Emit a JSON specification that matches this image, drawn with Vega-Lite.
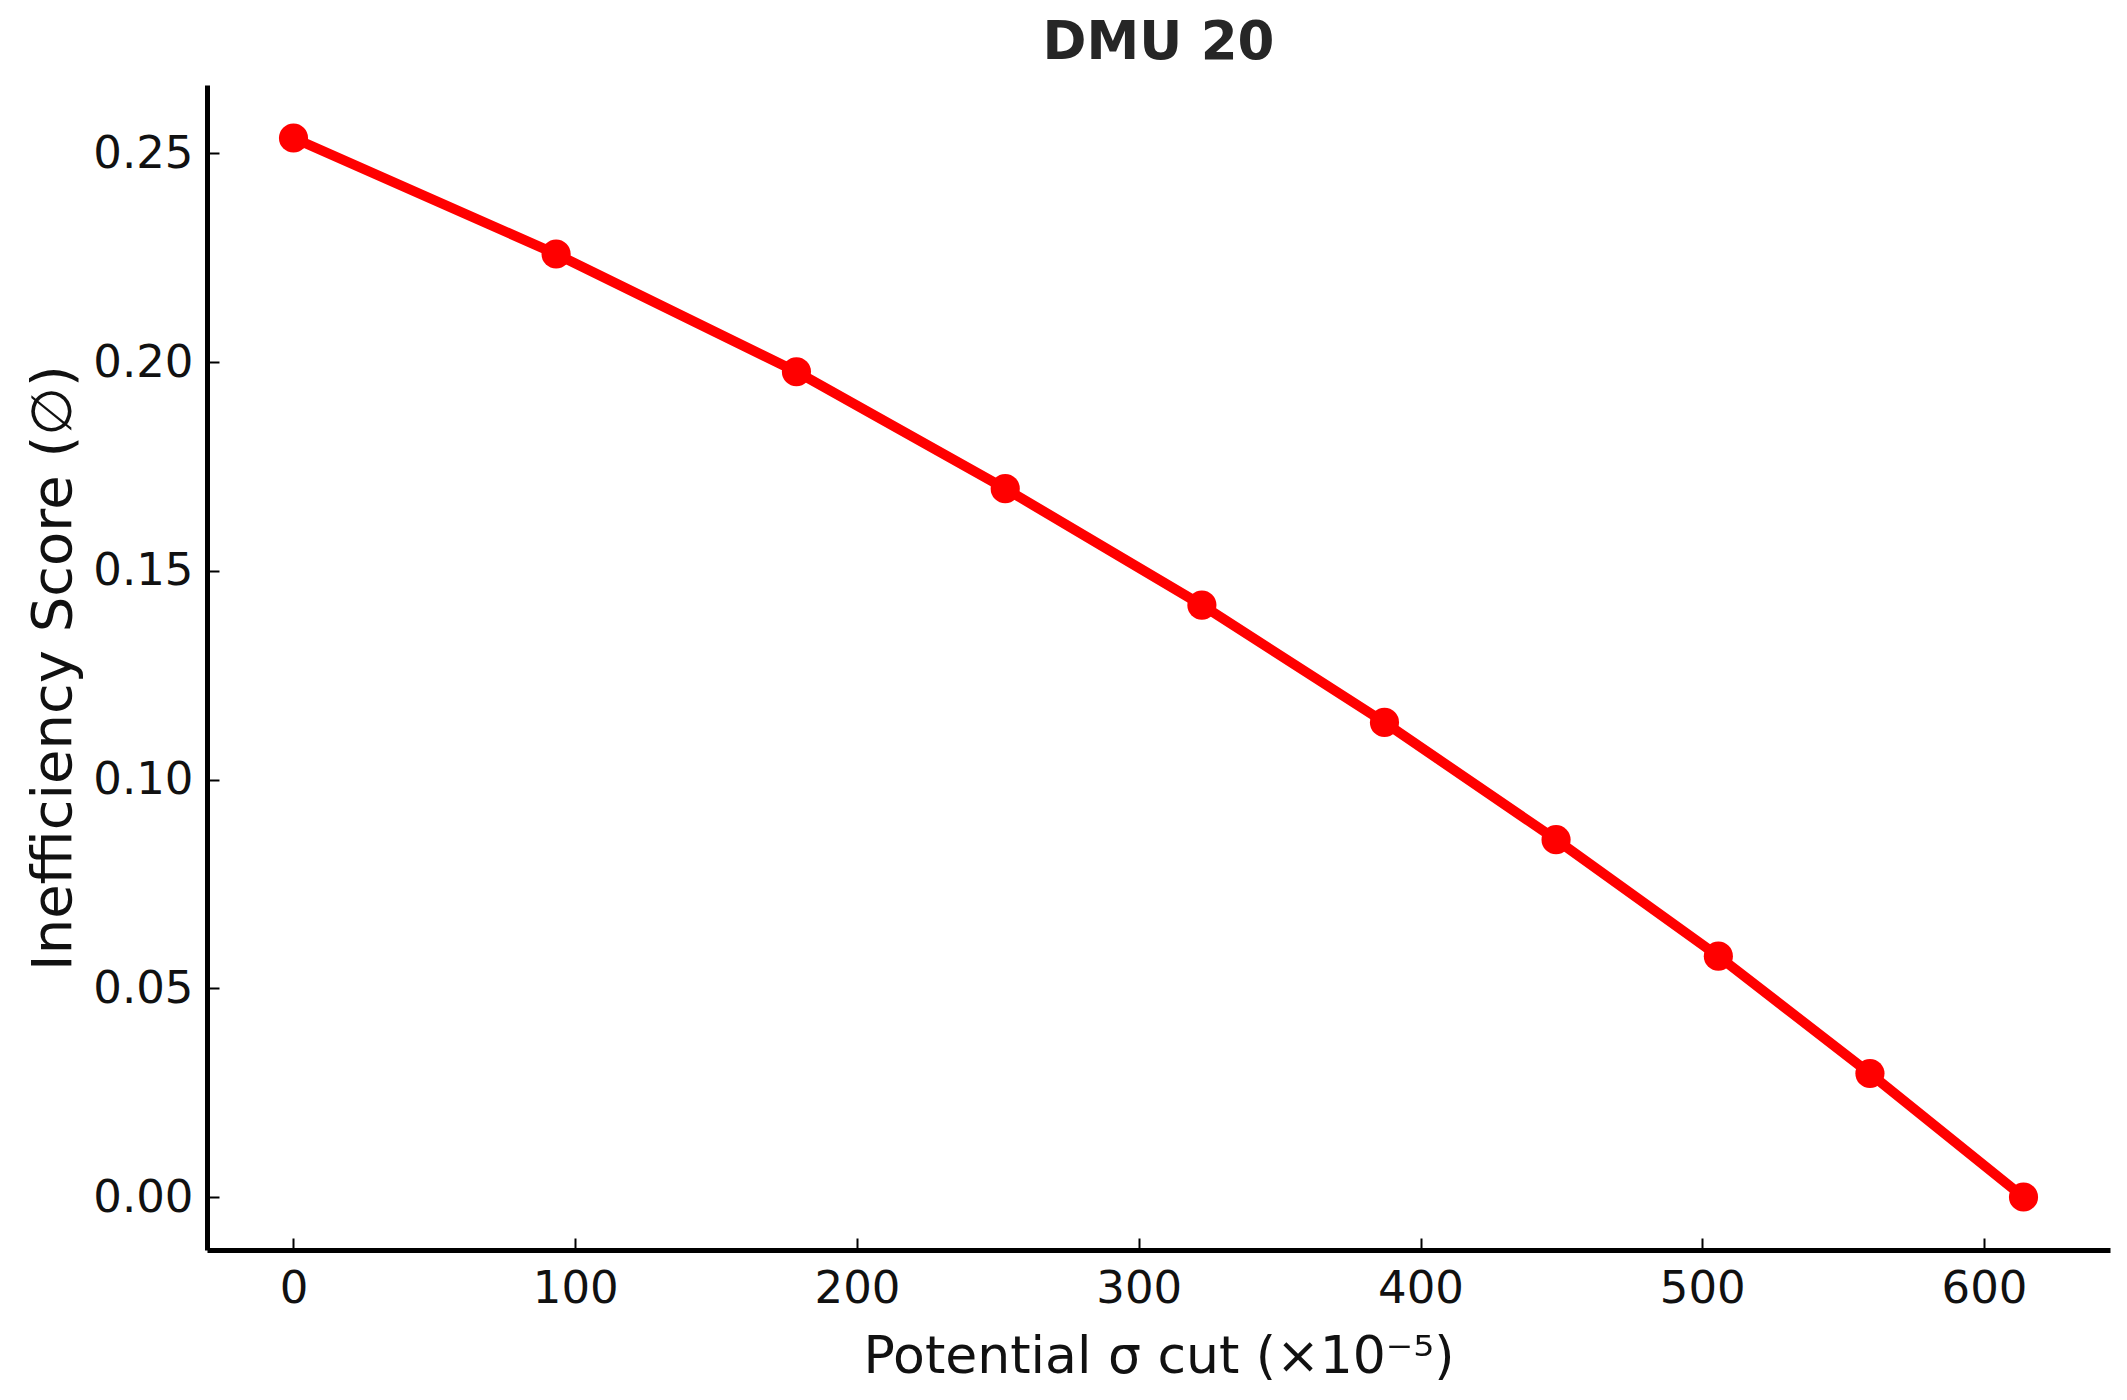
{
  "$schema": "https://vega.github.io/schema/vega-lite/v6.json",
  "width": 1903,
  "height": 1165,
  "autosize": {"type": "none"},
  "padding": {"left": 207, "top": 85, "right": 17, "bottom": 150},
  "background": "white",
  "config": {
    "view": {"stroke": null},
    "font": "DejaVu Sans",
    "axis": {
      "grid": false,
      "domainColor": "black",
      "domainWidth": 5,
      "tickColor": "black",
      "tickWidth": 2,
      "tickSize": -12,
      "labelFont": "DejaVu Sans",
      "labelFontSize": 45,
      "labelColor": "#111111",
      "titleFont": "DejaVu Sans",
      "titleFontWeight": "normal",
      "titleColor": "#111111"
    }
  },
  "title": {
    "text": "DMU 20",
    "font": "DejaVu Sans",
    "fontSize": 53,
    "fontWeight": "bold",
    "color": "#262626",
    "anchor": "middle",
    "baseline": "alphabetic",
    "offset": 24,
    "dy": 51
  },
  "data": {
    "values": [
      {"cut": 0, "score": 0.2537},
      {"cut": 93.2, "score": 0.2259},
      {"cut": 178.5, "score": 0.1977},
      {"cut": 252.6, "score": 0.1697},
      {"cut": 322.4, "score": 0.1418},
      {"cut": 387.2, "score": 0.1137},
      {"cut": 448.1, "score": 0.0856},
      {"cut": 505.7, "score": 0.0577},
      {"cut": 559.5, "score": 0.0296},
      {"cut": 614, "score": 0.0}
    ]
  },
  "encoding": {
    "x": {
      "field": "cut",
      "type": "quantitative",
      "scale": {"domain": [-30.7, 644.7], "nice": false, "zero": false},
      "axis": {
        "title": "Potential σ cut (×10⁻⁵)",
        "titleFontSize": 52,
        "values": [0, 100, 200, 300, 400, 500, 600],
        "format": "d",
        "labelBaseline": "alphabetic",
        "labelPadding": 64,
        "titleBaseline": "alphabetic",
        "titleY": 122,
        "titleX": 951.5,
        "titleAnchor": "middle"
      }
    },
    "y": {
      "field": "score",
      "type": "quantitative",
      "scale": {"domain": [-0.01269, 0.26639], "nice": false, "zero": false},
      "axis": {
        "title": "Inefficiency Score (∅)",
        "titleFontSize": 56,
        "values": [0, 0.05, 0.1, 0.15, 0.2, 0.25],
        "format": ".2f",
        "labelPadding": 26,
        "titleBaseline": "alphabetic",
        "titleAngle": -90,
        "titleX": -137,
        "titleY": 582.5,
        "titleAlign": "center"
      }
    }
  },
  "layer": [
    {"mark": {"type": "line", "color": "#ff0000", "strokeWidth": 10}},
    {"mark": {"type": "point", "filled": true, "color": "#ff0000", "opacity": 1, "size": 850}}
  ]
}
